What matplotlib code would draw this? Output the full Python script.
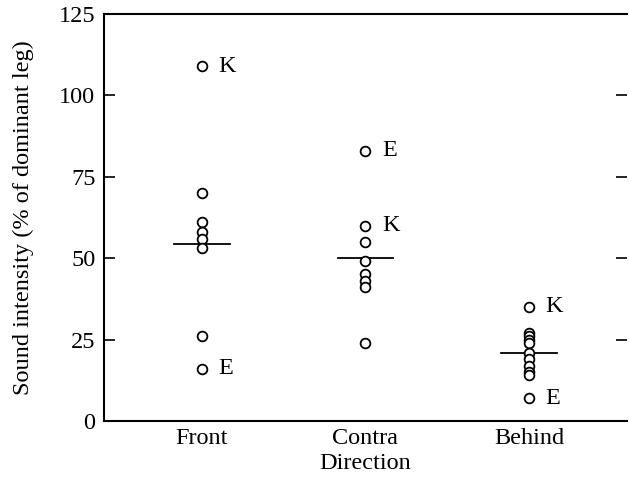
import numpy as np
import matplotlib.pyplot as plt

plt.rcParams['font.family'] = ['Liberation Serif', 'DejaVu Serif']

# Werte
directions = ["Front", "Contra", "Behind"]
front = [109, 70, 61, 58, 56, 53, 26, 16]
contra = [83, 60, 55, 49, 45, 43, 41, 24]
behind = [35, 27, 26, 25, 24, 21, 19, 17, 15, 14, 7]
means = [54.5, 50, 21]
# Beschriftete Tiere: (Gruppe, Wert, Buchstabe)
labels = [(0, 109, "K"), (0, 16, "E"),
          (1, 83, "E"), (1, 60, "K"),
          (2, 35, "K"), (2, 7, "E")]

fig = plt.figure(figsize=(6.29, 4.86), dpi=100)
ax = fig.add_axes([0.165, 0.134, 0.832, 0.837])

groups = [front, contra, behind]
for i, vals in enumerate(groups):
    x = np.full(len(vals), i + 1)
    ax.plot(x, vals, linestyle="None", marker="o", ms=7, mfc="white",
            mec="black", mew=1.3)
    ax.plot([i + 1 - 0.17, i + 1 + 0.17], [means[i], means[i]],
            color="black", lw=1.3, zorder=1)

for g, v, s in labels:
    ax.text(g + 1 + 0.1, v, s, fontsize=17.5, va="center", ha="left")

ax.set_xlim(0.4, 3.6)
ax.set_ylim(0, 125)
ax.set_xticks([1, 2, 3])
ax.set_xticklabels(directions)
ax.set_yticks([0, 25, 50, 75, 100, 125])
ax.tick_params(axis="x", length=0, labelsize=17.5, pad=5)
ax.tick_params(axis="y", direction="in", length=8, width=1.2, labelsize=17.5,
               right=True, pad=6)
ax.spines["right"].set_visible(False)
for sp in ["left", "top", "bottom"]:
    ax.spines[sp].set_linewidth(1.5)

ax.set_xlabel("Direction", fontsize=17.5, labelpad=3)
ax.set_ylabel("Sound intensity (% of dominant leg)", fontsize=17.5, labelpad=18)

plt.savefig("out.png", dpi=100)
